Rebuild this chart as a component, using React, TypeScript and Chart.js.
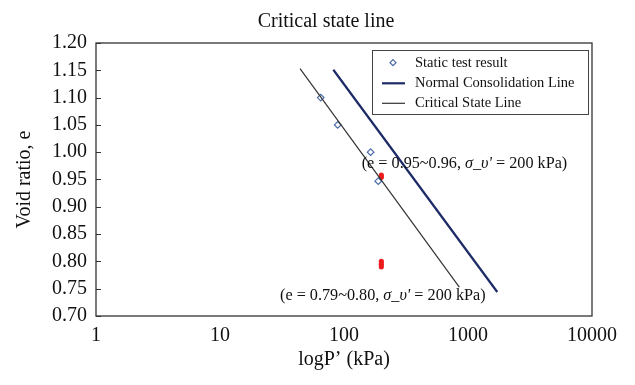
import React, { useEffect, useRef } from "react";
import { Chart, registerables } from "chart.js";

Chart.register(...registerables);

// ---- data ----
const staticP = [64.9, 89, 164, 189];
const staticE = [1.1, 1.05, 1.0, 0.947];
const redP = [200, 200, 200, 200, 200];
const redE = [0.958, 0.954, 0.8, 0.795, 0.79];
const nclP = [82, 1722];
const nclE = [1.151, 0.744];
const cslP = [44.2, 851];
const cslE = [1.153, 0.753];
const xTicks = [1, 10, 100, 1000, 10000];
const yMin = 0.7;
const yMax = 1.2;
const yStep = 0.05;

const titleText = "Critical state line";
const xTitle = "logP\u2019 (kPa)";
const yTitle = "Void ratio, e";
const legendLabels = ["Static test result", "Normal Consolidation Line", "Critical State Line"];
const ann1 = { p: 139, e: 0.978, pre: "(e = 0.95~0.96, ", it: "\u03c3_\u03c5'", post: " = 200 kPa)" };
const ann2 = { p: 30.5, e: 0.738, pre: "(e = 0.79~0.80, ", it: "\u03c3_\u03c5'", post: " = 200 kPa)" };

const FONT = '"Liberation Serif", "Times New Roman", serif';
const BLUE = "#4a6aa8";
const NAVY = "#1c2a66";
const GRAY = "#333333";
const RED = "#ee1c1c";
const ANN_SIZE = 16.2;

const zip = (xs: number[], ys: number[]) => xs.map((x, i) => ({ x, y: ys[i] }));

const customPlugin = {
  id: "custom",
  afterDraw(chart: any) {
    const { ctx, chartArea: a, scales } = chart;
    const xs = scales.x;
    const ys = scales.y;
    ctx.save();
    // frame
    ctx.strokeStyle = GRAY;
    ctx.lineWidth = 1.3;
    ctx.strokeRect(a.left, a.top, a.right - a.left, a.bottom - a.top);
    // inner y ticks
    ctx.lineWidth = 1;
    for (let v = yMin; v <= yMax + 1e-9; v += yStep) {
      const y = Math.round(ys.getPixelForValue(v)) + 0.5;
      ctx.beginPath();
      ctx.moveTo(a.left, y);
      ctx.lineTo(a.left + 5, y);
      ctx.stroke();
    }
    // title
    ctx.fillStyle = "#111";
    ctx.font = `20px ${FONT}`;
    ctx.textAlign = "center";
    ctx.textBaseline = "alphabetic";
    ctx.fillText(titleText, 318, 19);

    // legend
    const lx = 364, ly = 42, lw = 216, lh = 64;
    ctx.fillStyle = "#fff";
    ctx.fillRect(lx, ly, lw, lh);
    ctx.strokeStyle = "#444";
    ctx.lineWidth = 1;
    ctx.strokeRect(lx + 0.5, ly + 0.5, lw, lh);
    const rows = [54.7, 75.3, 95.3];
    // marker
    ctx.strokeStyle = BLUE;
    ctx.lineWidth = 1.2;
    ctx.beginPath();
    const mx = 385, my = rows[0], r = 3;
    ctx.moveTo(mx, my - r);
    ctx.lineTo(mx + r, my);
    ctx.lineTo(mx, my + r);
    ctx.lineTo(mx - r, my);
    ctx.closePath();
    ctx.stroke();
    ctx.strokeStyle = NAVY;
    ctx.lineWidth = 2.2;
    ctx.beginPath();
    ctx.moveTo(374, rows[1]);
    ctx.lineTo(397, rows[1]);
    ctx.stroke();
    ctx.strokeStyle = GRAY;
    ctx.lineWidth = 1.2;
    ctx.beginPath();
    ctx.moveTo(374, rows[2]);
    ctx.lineTo(397, rows[2]);
    ctx.stroke();
    ctx.fillStyle = "#111";
    ctx.font = `14.5px ${FONT}`;
    ctx.textAlign = "left";
    ctx.textBaseline = "middle";
    legendLabels.forEach((t, i) => ctx.fillText(t, 407, rows[i]));

    // annotations
    const drawAnn = (an: any) => {
      let x = xs.getPixelForValue(an.p);
      const y = ys.getPixelForValue(an.e);
      ctx.textBaseline = "middle";
      ctx.textAlign = "left";
      ctx.fillStyle = "#111";
      ctx.font = `${ANN_SIZE}px ${FONT}`;
      ctx.fillText(an.pre, x, y);
      x += ctx.measureText(an.pre).width;
      ctx.font = `italic ${ANN_SIZE}px ${FONT}`;
      ctx.fillText(an.it, x, y);
      x += ctx.measureText(an.it).width;
      ctx.font = `${ANN_SIZE}px ${FONT}`;
      ctx.fillText(an.post, x, y);
    };
    drawAnn(ann1);
    drawAnn(ann2);
    ctx.restore();
  },
};

export default function App() {
  const ref = useRef<HTMLCanvasElement>(null);
  useEffect(() => {
    if (!ref.current) return;
    const chart = new Chart(ref.current, {
      type: "scatter",
      data: {
        datasets: [
          {
            label: "CSL",
            data: zip(cslP, cslE),
            showLine: true,
            borderColor: GRAY,
            borderWidth: 1.2,
            pointRadius: 0,
          },
          {
            label: "NCL",
            data: zip(nclP, nclE),
            showLine: true,
            borderColor: NAVY,
            borderWidth: 2.2,
            pointRadius: 0,
          },
          {
            label: "Static",
            data: zip(staticP, staticE),
            pointStyle: "rectRot",
            pointRadius: 3.3,
            borderColor: BLUE,
            backgroundColor: "#fff",
            borderWidth: 1.2,
          },
          {
            label: "Cyclic",
            data: zip(redP, redE),
            pointStyle: "circle",
            pointRadius: 2.6,
            borderColor: RED,
            backgroundColor: RED,
            borderWidth: 0,
          },
        ],
      },
      options: {
        animation: false,
        responsive: false,
        maintainAspectRatio: false,
        layout: { padding: { top: 35, right: 35, left: 0, bottom: 0 } },
        plugins: { legend: { display: false }, title: { display: false }, tooltip: { enabled: false } },
        scales: {
          x: {
            type: "logarithmic",
            min: 1,
            max: 10000,
            afterBuildTicks: (scale: any) => {
              scale.ticks = xTicks.map((v) => ({ value: v }));
            },
            afterFit: (scale: any) => {
              scale.height = 61;
            },
            grid: { display: false, drawTicks: false },
            border: { display: false },
            ticks: {
              autoSkip: false,
              maxRotation: 0,
              padding: 8,
              color: "#111",
              font: { family: FONT, size: 20 },
              callback: (v: any) => String(v),
            },
            title: {
              display: true,
              text: xTitle,
              color: "#111",
              font: { family: FONT, size: 20 },
              padding: { top: 0, bottom: 5 },
            },
          },
          y: {
            type: "linear",
            min: yMin,
            max: yMax,
            afterFit: (scale: any) => {
              scale.width = 88;
            },
            grid: { display: false, drawTicks: false },
            border: { display: false },
            ticks: {
              stepSize: yStep,
              padding: 9,
              color: "#111",
              font: { family: FONT, size: 20 },
              callback: (v: any) => Number(v).toFixed(2),
            },
            title: {
              display: true,
              text: yTitle,
              color: "#111",
              font: { family: FONT, size: 20 },
              padding: { top: 5, bottom: 0 },
            },
          },
        },
      },
      plugins: [customPlugin],
    } as any);
    return () => chart.destroy();
  }, []);
  return (
    <div style={{ width: 619, height: 369 }}>
      <canvas ref={ref} width={619} height={369} style={{ width: 619, height: 369 }} />
    </div>
  );
}
